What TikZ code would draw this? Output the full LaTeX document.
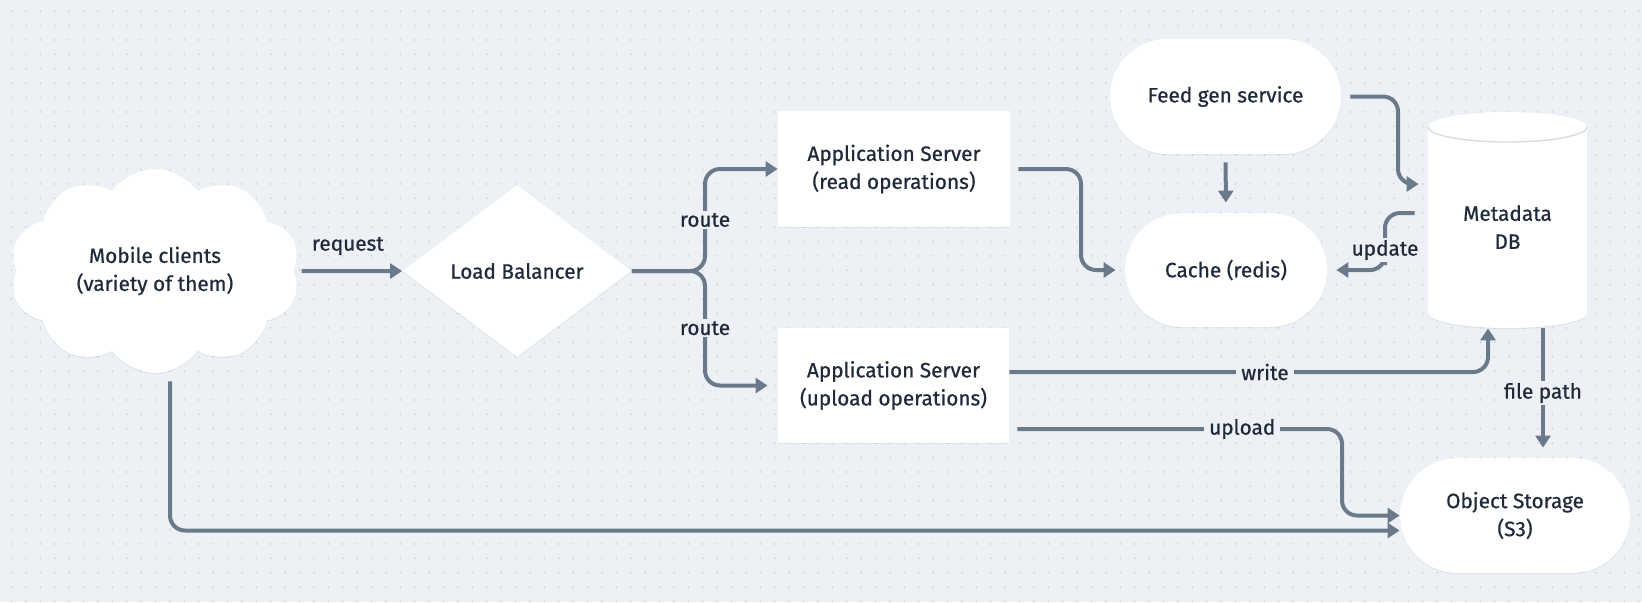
\documentclass[tikz,border=0pt]{standalone}
\usepackage{fontspec}
\setmainfont{Fira Sans}[RawFeature={embolden=0.7}]
\usetikzlibrary{shapes.geometric,shapes.symbols,arrows.meta,calc,shadows}
\definecolor{bg}{HTML}{EDF1F5}
\definecolor{dotc}{HTML}{C3CCD7}
\definecolor{edge}{HTML}{6B7A8A}
\definecolor{ink}{HTML}{1F2A3A}
\definecolor{rim}{HTML}{D6DDE5}
\begin{document}
\begin{tikzpicture}[x=0.5pt,y=-0.5pt, font=\fontsize{10.4}{14}\selectfont, text=ink,
  shade/.style={drop shadow={shadow xshift=0pt, shadow yshift=-0.6pt, opacity=0.05, fill=black}},
  box/.style={fill=white, draw=none, align=center, inner sep=0, shade},
  arr/.style={draw=edge, line width=2pt, rounded corners=7.5pt, -{Triangle[length=6pt,width=7.5pt]}},
  lbl/.style={fill=bg, inner xsep=2.5pt, inner ysep=1pt, text=ink, rounded corners=0pt}]
\useasboundingbox (0,0) rectangle (1642,602);
\fill[bg] (0,0) rectangle (1642,602);
\foreach \i in {0,...,113} \foreach \j in {0,...,41} \fill[dotc] (11.5+14.4*\i, 11.1+14.4*\j) circle[radius=0.9];

% nodes
\node[cloud, cloud puffs=10, cloud puff arc=110, cloud ignores aspect, minimum width=145pt, minimum height=102pt, fill=white, inner sep=0, align=center, shade] (mob) at (155,271) {Mobile clients\\(variety of them)};
\node[diamond, fill=white, minimum width=114.5pt, minimum height=86pt, inner sep=0, shape aspect=1.33, shade] (lb) at (517,271) {Load Balancer};
\node[box, minimum width=116pt, minimum height=58pt] (rs) at (894,169) {Application Server\\(read operations)};
\node[box, minimum width=115.5pt, minimum height=57.5pt] (us) at (893.5,385.5) {Application Server\\(upload operations)};
\node[box, rounded corners=28.75pt, minimum width=115.5pt, minimum height=57.5pt] (feed) at (1225.5,96.5) {Feed gen service};
\node[box, rounded corners=28.5pt, minimum width=101pt, minimum height=57pt] (cache) at (1226,270) {Cache (redis)};
\node[box, rounded corners=28.75pt, minimum width=115pt, minimum height=57.5pt] (os) at (1515,515.5) {Object Storage\\(S3)};
\fill[white, shade] (1428,127) -- (1428,313) arc[start angle=180,end angle=0,x radius=79.5,y radius=15] -- (1587,127) arc[start angle=0,end angle=-180,x radius=79.5,y radius=15] -- cycle;
\draw[rim, line width=0.7pt] (1428,127) arc[start angle=180,end angle=0,x radius=79.5,y radius=15];
\node[align=center, inner sep=0, minimum width=79.5pt, minimum height=101pt] (db) at (1507.5,227) {Metadata\\DB};

% connectors
\draw[arr, shorten <=4pt] (mob.east) -- node[midway, yshift=12.5pt, inner sep=0]{request} (lb.west);
\draw[arr] (lb.east) -- (705,271) |- node[lbl, pos=0.25]{route} (rs.west);
\draw[arr, shorten >=5pt] (lb.east) -- (705,271) |- node[lbl, pos=0.25]{route} (us.west);
\draw[arr, shorten <=4pt, shorten >=4.5pt] (rs.east) -| (1081,220) |- (cache.west);
\draw[arr, shorten <=4pt, shorten >=5pt] (feed.south) -- (cache.north);
\draw[arr, shorten <=4.5pt, shorten >=4.5pt] (feed.east) -| (1398,140) |- ([yshift=21.5pt]db.west);
\draw[arr, shorten <=6.5pt, shorten >=4.5pt] ([yshift=7pt]db.west) -| (1385,250) node[lbl]{update} |- (cache.east);
\draw[arr] ([yshift=6.75pt]us.east) -| node[lbl, pos=0.267]{write} ([xshift=-9.75pt]db.south);
\draw[arr, shorten <=4pt] ([yshift=-21.75pt]us.east) -| node[lbl, pos=0.35]{upload} (1342,470) |- (os.west);
\draw[arr, shorten <=4pt] ([xshift=7.5pt]mob.south) |- ([yshift=-7.5pt]os.west);
\draw[arr, shorten >=5pt] ([xshift=17.75pt]db.south) -- node[lbl]{file path} ([xshift=17.75pt]db.south |- os.north);
\end{tikzpicture}
\end{document}
